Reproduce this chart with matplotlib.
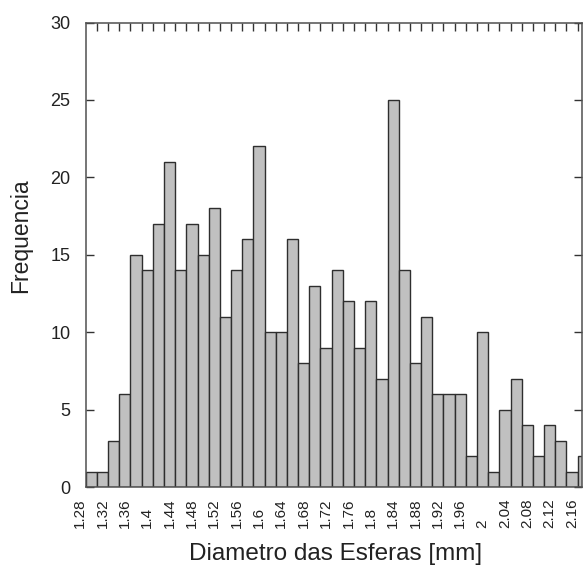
import matplotlib
matplotlib.use('Agg')
import matplotlib.pyplot as plt
import numpy as np

plt.rcParams['font.family'] = ['Liberation Sans', 'DejaVu Sans']

# bin centres (mm) and counts
diametro = [1.30, 1.32, 1.34, 1.36, 1.38, 1.40, 1.42, 1.44, 1.46, 1.48,
            1.50, 1.52, 1.54, 1.56, 1.58, 1.60, 1.62, 1.64, 1.66, 1.68,
            1.70, 1.72, 1.74, 1.76, 1.78, 1.80, 1.82, 1.84, 1.86, 1.88,
            1.90, 1.92, 1.94, 1.96, 1.98, 2.00, 2.02, 2.04, 2.06, 2.08,
            2.10, 2.12, 2.14, 2.16, 2.18]
frequencia = [1, 1, 3, 6, 15, 14, 17, 21, 14, 17,
              15, 18, 11, 14, 16, 22, 10, 10, 16, 8,
              13, 9, 14, 12, 9, 12, 7, 25, 14, 8,
              11, 6, 6, 6, 2, 10, 1, 5, 7, 4,
              2, 4, 3, 1, 2]

tick_pos = [1.28, 1.32, 1.36, 1.40, 1.44, 1.48, 1.52, 1.56, 1.60, 1.64, 1.68, 1.72,
            1.76, 1.80, 1.84, 1.88, 1.92, 1.96, 2.00, 2.04, 2.08, 2.12, 2.16]
tick_labels = ['1.28', '1.32', '1.36', '1.4', '1.44', '1.48', '1.52', '1.56', '1.6',
               '1.64', '1.68', '1.72', '1.76', '1.8', '1.84', '1.88', '1.92', '1.96',
               '2', '2.04', '2.08', '2.12', '2.16']
y_ticks = [0, 5, 10, 15, 20, 25, 30]

bin_width = 0.02
W, H = 583, 567

fig = plt.figure(figsize=(W / 100, H / 100), dpi=100)
ax = fig.add_axes([85.7 / W, (H - 487) / H, (582 - 85.7) / W, (487 - 22.5) / H])

ax.bar(diametro, frequencia, width=bin_width, color='#c0c0c0',
       edgecolor='#2e2e2e', linewidth=1.0)

ax.set_xlim(diametro[0] - bin_width / 2, 2.1778)
ax.set_ylim(0, 30)

for s in ax.spines.values():
    s.set_color('#505050')
    s.set_linewidth(1.1)

# x labels: real ticks for the ones inside the axis, annotate the first one
lab_fs = 11
lab_pad = 29.5
inside = [(p, l) for p, l in zip(tick_pos, tick_labels) if p >= ax.get_xlim()[0]]
ax.set_xticks([p for p, _ in inside])
ax.set_xticklabels([l for _, l in inside], rotation=90, va='bottom',
                   fontsize=lab_fs, color='#222222')
ax.tick_params(axis='x', which='major', length=0, pad=lab_pad)
for p, l in zip(tick_pos, tick_labels):
    if p < ax.get_xlim()[0]:
        ax.annotate(l, xy=(p, 0), xycoords=('data', 'axes fraction'),
                    xytext=(0, -lab_pad), textcoords='offset points',
                    rotation=90, ha='center', va='bottom', fontsize=lab_fs,
                    color='#222222', annotation_clip=False)

# small inward ticks along the top at every bin edge
edges = np.array(diametro) + bin_width / 2
ax.set_xticks(edges[:-1], minor=True)
ax.tick_params(axis='x', which='minor', top=True, bottom=False, direction='in',
               length=5.5, width=1.0, color='#333333')

ax.set_yticks(y_ticks)
ax.tick_params(axis='y', direction='in', left=True, right=True, length=5.5,
               width=1.0, color='#333333', labelsize=13, pad=11,
               labelcolor='#222222')

ax.set_ylabel('Frequencia', fontsize=16.5, color='#222222')
ax.yaxis.set_label_coords(-0.108, 0.54)
ax.set_xlabel('Diametro das Esferas [mm]', fontsize=17.5, color='#222222')
ax.xaxis.set_label_coords(0.504, -0.1206)

fig.savefig('out.png', dpi=100)
